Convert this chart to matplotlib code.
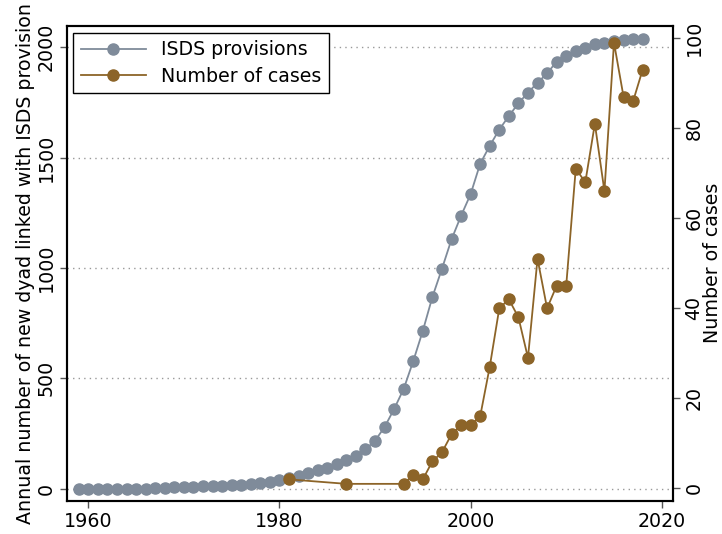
import numpy as np
import matplotlib
matplotlib.use('Agg')
import matplotlib.pyplot as plt

# ISDS provisions, one value per year 1959-2018
isds_years = np.arange(1959, 2019)
isds_vals = [0, 0, 0, 0, 0, 0, 0, 0, 3, 4,
             5, 7, 9, 10, 12, 14, 16, 18, 20, 26,
             32, 41, 47, 59, 71, 83, 95, 110, 128, 146,
             178, 217, 279, 361, 452, 578, 715, 868, 996, 1129,
             1236, 1334, 1472, 1553, 1627, 1688, 1746, 1794, 1839, 1881,
             1935, 1962, 1983, 1998, 2014, 2020, 2027, 2033, 2035, 2036]

case_years = [1981, 1987, 1993, 1994, 1995, 1996, 1997, 1998, 1999, 2000,
              2001, 2002, 2003, 2004, 2005, 2006, 2007, 2008, 2009, 2010,
              2011, 2012, 2013, 2014, 2015, 2016, 2017, 2018]
case_vals = [2, 1, 1, 3, 2, 6, 8, 12, 14, 14,
             16, 27, 40, 42, 38, 29, 51, 40, 45, 45,
             71, 68, 81, 66, 99, 87, 86, 93]

grey = '#7f8b9a'
brown = '#8c6428'
fs = 13.7

fig = plt.figure(figsize=(7.22, 5.34), dpi=100, facecolor='white')
ax1 = fig.add_axes([0.0924, 0.0627, 0.8402, 0.8886])
ax2 = ax1.twinx()

l1, = ax1.plot(isds_years, isds_vals, '-o', color=grey, lw=1.3, ms=8,
               label='ISDS provisions')
l2, = ax2.plot(case_years, case_vals, '-o', color=brown, lw=1.3, ms=8,
               label='Number of cases')

ax1.set_xlim(1957.74, 2021.21)
ax1.set_ylim(-54, 2096)
ax2.set_ylim(-2.7, 102.7)
ax1.set_xticks([1960, 1980, 2000, 2020])
ax1.set_yticks([0, 500, 1000, 1500, 2000])
ax2.set_yticks([0, 20, 40, 60, 80, 100])

ax1.yaxis.grid(True, linestyle=(0, (1, 3)), color='#999999', lw=1)
ax1.set_axisbelow(True)

for ax in (ax1, ax2):
    ax.tick_params(direction='out', length=5, width=1, color='#555555',
                   labelsize=fs, pad=3)
    for s in ax.spines.values():
        s.set_linewidth(1.5)
        s.set_color('black')
for lab in ax1.get_yticklabels() + ax2.get_yticklabels():
    lab.set_rotation(90)
    lab.set_va('center')

ax1.set_ylabel('Annual number of new dyad linked with ISDS provision',
               fontsize=fs, labelpad=1)
ax2.set_ylabel('Number of cases', fontsize=fs, labelpad=0)

leg = ax2.legend(handles=[l1, l2], loc='upper left', fontsize=fs,
                 fancybox=False, framealpha=1, edgecolor='black',
                 handlelength=3.4, borderaxespad=0.35, borderpad=0.4,
                 labelspacing=0.4)
leg.get_frame().set_linewidth(1)

fig.savefig('out.png', dpi=100)
